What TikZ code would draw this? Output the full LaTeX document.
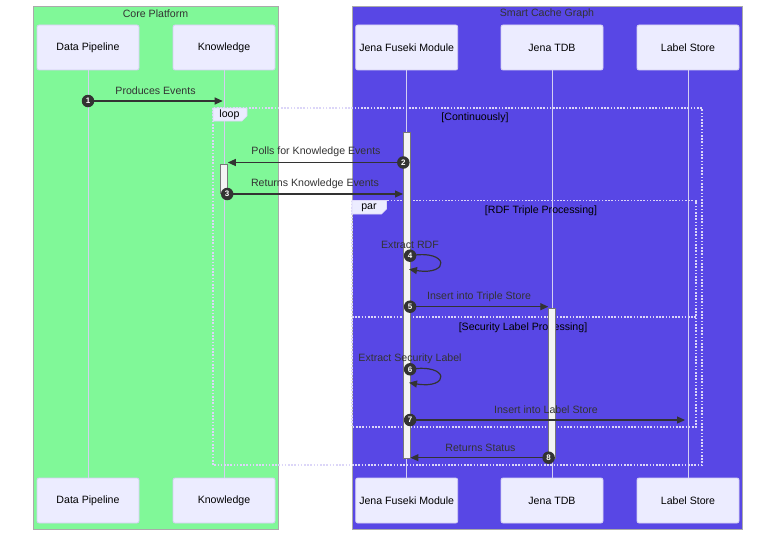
\documentclass[tikz,border=0pt]{standalone}
\usepackage{fontspec}
\setmainfont{Liberation Sans}
\usetikzlibrary{arrows.meta,calc}
\definecolor{grn}{HTML}{80F898}
\definecolor{blu}{HTML}{5847E5}
\definecolor{actfill}{HTML}{ECECFF}
\definecolor{actline}{HTML}{D4CFF2}
\definecolor{txt}{HTML}{333333}
\definecolor{actbox}{HTML}{F4F4F4}
\definecolor{actdraw}{HTML}{777777}
\definecolor{frameline}{HTML}{DCD6F8}
\definecolor{grpline}{HTML}{AAAAAA}
\begin{document}
\begin{tikzpicture}[x=1pt,y=-1pt,
  actor/.style={draw=actline, fill=actfill, rounded corners=2pt, minimum width=102pt, minimum height=45pt, font=\fontsize{10.6}{12}\selectfont, text=black, inner sep=0pt, line width=0.8pt},
  lifeline/.style={draw=actline, line width=1pt},
  msg/.style={draw=txt, line width=1.2pt, -{Triangle[length=8pt,width=7pt]}},
  mlabel/.style={font=\fontsize{10.6}{12}\selectfont, text=txt, inner sep=0pt},
  flabel/.style={font=\fontsize{10.6}{12}\selectfont, text=black, inner sep=0pt},
  num/.style={circle, fill=txt, text=white, inner sep=0pt, minimum size=12.5pt, font=\fontsize{8}{8}\selectfont\bfseries},
  actbar/.style={draw=actdraw, fill=actbox, line width=0.8pt},
  frame/.style={draw=frameline, line width=1.1pt, dash pattern=on 1.6pt off 1.6pt},
  flabbox/.style={fill=actfill, draw=frameline, line width=0.6pt},
  grp/.style={draw=grpline, line width=0.6pt}
]
\useasboundingbox (0,0) rectangle (784,543);
% groups
\fill[white] (0,0) rectangle (784,543);
\draw[grp, fill=grn] (33,6) rectangle (278,529);
\draw[grp, fill=blu] (352,6) rectangle (742,529);
\node[mlabel] (gcore) at (155.5,14) {Core Platform};
\node[mlabel] (gscg) at (547,14) {Smart Cache Graph};
% actors
\node[actor] (dpT) at (88,47.5) {Data Pipeline};
\node[actor] (knT) at (224,47.5) {Knowledge};
\node[actor] (jfT) at (406.7,47.5) {Jena Fuseki Module};
\node[actor] (tdT) at (552,47.5) {Jena TDB};
\node[actor] (lsT) at (688,47.5) {Label Store};
\node[actor] (dpB) at (88,500.5) {Data Pipeline};
\node[actor] (knB) at (224,500.5) {Knowledge};
\node[actor] (jfB) at (406.7,500.5) {Jena Fuseki Module};
\node[actor] (tdB) at (552,500.5) {Jena TDB};
\node[actor] (lsB) at (688,500.5) {Label Store};
% lifelines
\draw[lifeline] (dpT.south) -- (dpB.north);
\draw[lifeline] (knT.south) -- (knB.north);
\draw[lifeline] (jfT.south) -- (jfB.north);
\draw[lifeline] (tdT.south) -- (tdB.north);
\draw[lifeline] (lsT.south) -- (lsB.north);
% loop frame
\draw[frame] (213,108) rectangle (702,465);
\draw[flabbox] (213,108) -- (247,108) -- (247,116) -- (242,121) -- (213,121) -- cycle;
\node[flabel] (loopl) at (229.5,115) {loop};
\node[flabel] (loopc) at (475,117.5) {[Continuously]};
% par frame
\draw[frame] (352,200.5) rectangle (696,427);
\draw[frame] (352,317) -- (696,317);
\draw[flabbox] (352,200.5) -- (386.5,200.5) -- (386.5,209) -- (381.5,214) -- (352,214) -- cycle;
\node[flabel] (parl) at (369,208) {par};
\node[flabel] (parc1) at (541,210.5) {[RDF Triple Processing]};
\node[flabel] (parc2) at (523,327.5) {[Security Label Processing]};
% activations
\draw[actbar] (403.3,132) rectangle (410.1,458);
\draw[actbar] (220.4,164) rectangle (227.2,193);
\draw[actbar] (548.6,308) rectangle (555.4,458);
% message end points
\coordinate (a1) at (88,101);   \coordinate (b1) at (222.7,101);
\coordinate (a2) at (403.3,162.5); \coordinate (b2) at (227.8,162.5);
\coordinate (a3) at (227.2,194); \coordinate (b3) at (403,194);
\coordinate (a4) at (410.1,255.7); \coordinate (b4) at (409,269.3);
\coordinate (a5) at (410.1,306.7); \coordinate (b5) at (548.3,306.7);
\coordinate (a6) at (410.1,369.3); \coordinate (b6) at (409,382.7);
\coordinate (a7) at (410.1,420); \coordinate (b7) at (685,420);
\coordinate (a8) at (548.6,457.7); \coordinate (b8) at (410.4,457.7);
% messages
\node[mlabel] (l1) at (155.5,91) {Produces Events};
\draw[msg] (a1) -- (b1);
\node[mlabel] (l2) at (316,152) {Polls for Knowledge Events};
\draw[msg] (a2) -- (b2);
\node[mlabel] (l3) at (315,184) {Returns Knowledge Events};
\draw[msg] (a3) -- (b3);
\node[mlabel] (l4) at (410,245) {Extract RDF};
\draw[msg] (a4) .. controls (450,249) and (450,276) .. (b4);
\node[mlabel] (l5) at (479,297) {Insert into Triple Store};
\draw[msg] (a5) -- (b5);
\node[mlabel] (l6) at (410,359) {Extract Security Label};
\draw[msg] (a6) .. controls (450,363) and (450,389.5) .. (b6);
\node[mlabel] (l7) at (546,410) {Insert into Label Store};
\draw[msg] (a7) -- (b7);
\node[mlabel] (l8) at (480.5,448) {Returns Status};
\draw[msg] (a8) -- (b8);
% sequence numbers
\node[num] (n1) at (a1) {1};
\node[num] (n2) at (a2) {2};
\node[num] (n3) at (a3) {3};
\node[num] (n4) at (a4) {4};
\node[num] (n5) at (a5) {5};
\node[num] (n6) at (a6) {6};
\node[num] (n7) at (a7) {7};
\node[num] (n8) at (a8) {8};
\end{tikzpicture}
\end{document}
